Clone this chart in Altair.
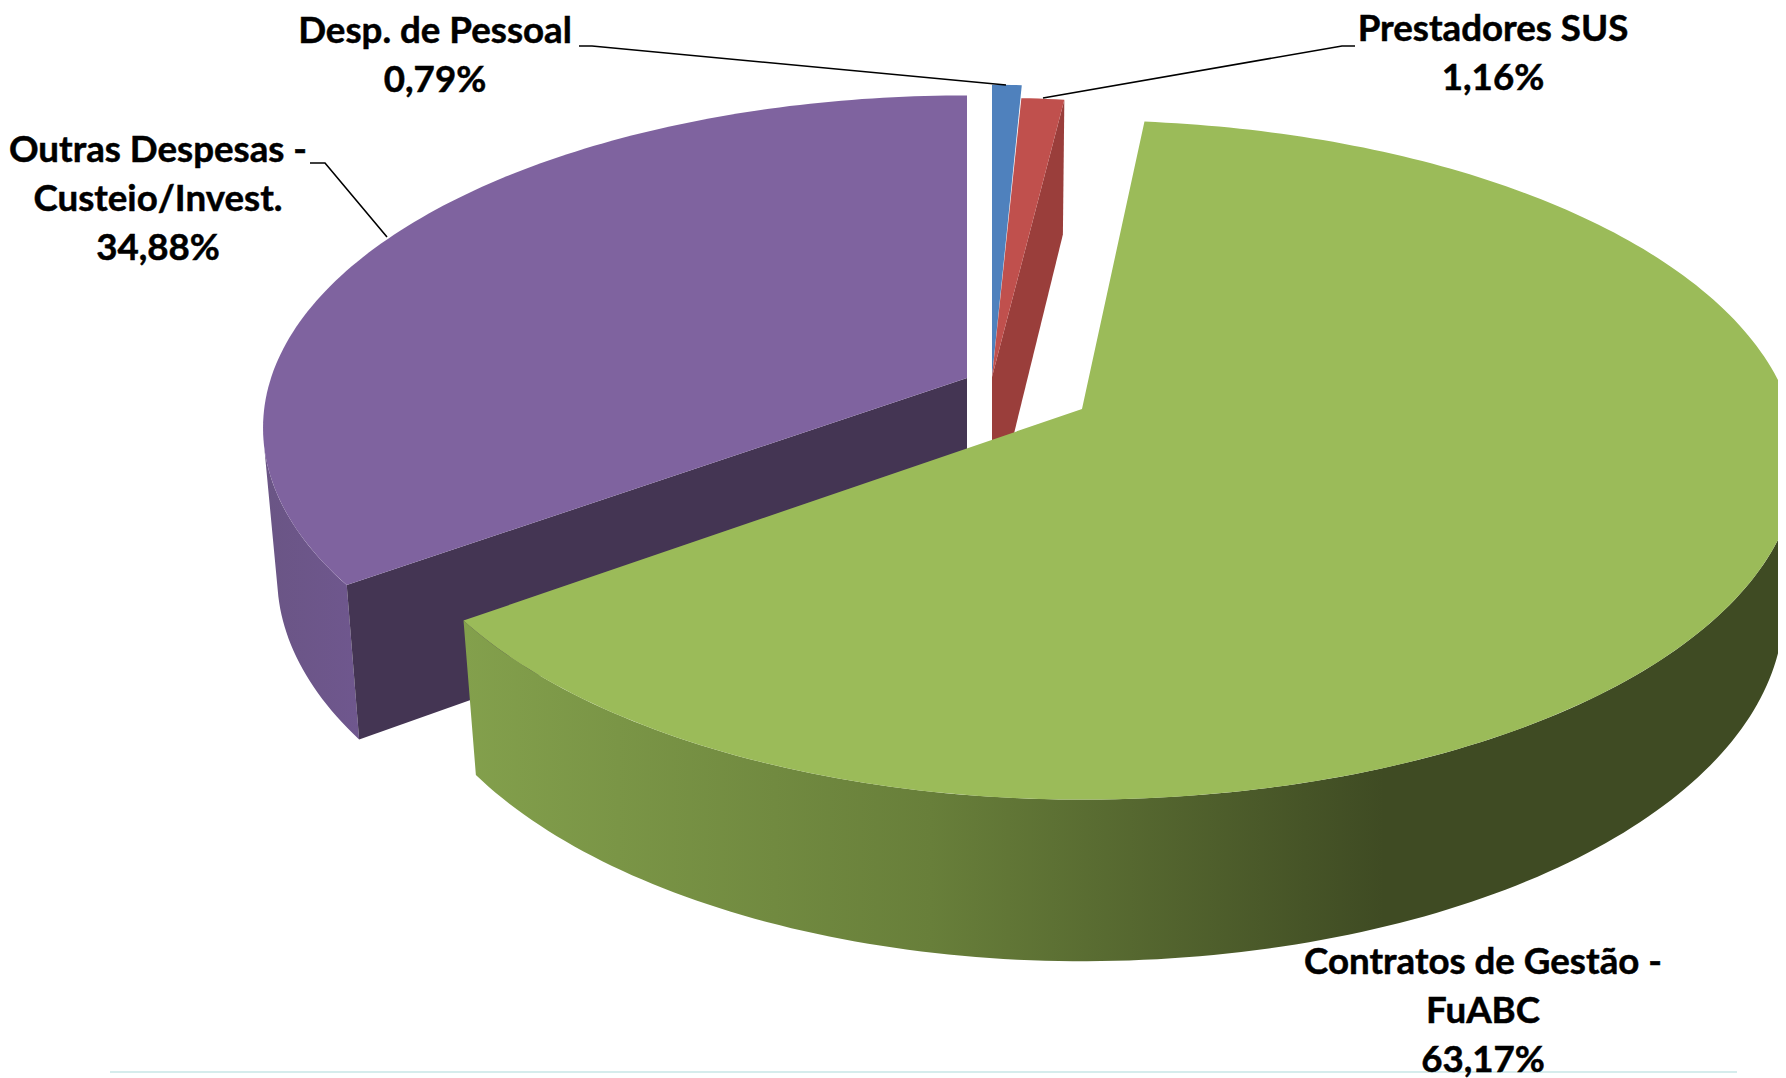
import math
import altair as alt
import pandas as pd

# Pie values (per cent), clockwise from the top
labels = ["Desp. de Pessoal", "Prestadores SUS", "Contratos de Gestão - FuABC", "Outras Despesas - Custeio/Invest."]
values = [0.79, 1.16, 63.17, 34.88]
top_colors = ["#4F81BD", "#C0504D", "#9BBB59", "#7F639F"]
face_colors = ["#3C618E", "#9A3E3B", "#748C43", "#443553"]

# Slice geometry of the perspective drawing: apex x, apex y, half-widths (right, left), half-depth, start nudge
apex_x = [992, 992, 1082, 967]
apex_y = [377, 377, 409, 378]
radius_right = [690, 680, 708, 696]
radius_left = [690, 680, 694, 696]
radius_y = [336, 321, 332, 325]
start_nudge = [0, 0, -1.2, 0]
TILT = 0.15
WALL_DROP = 146
WALL_SX = 0.98
WALL_SY = 1.04

# Text labels: lines, centre x, first line's middle y
text_lines = [["Desp. de Pessoal", "0,79%"], ["Prestadores SUS", "1,16%"],
              ["Outras Despesas -", "Custeio/Invest.", "34,88%"],
              ["Contratos de Gestão -", "FuABC", "63,17%"]]
text_x = [435, 1493, 158, 1483]
text_y = [32, 30, 151, 963]
LINE_GAP = 49

leader_x = [[579, 592, 1006], [1355, 1342, 1043], [310, 325, 387]]
leader_y = [[46, 46, 85], [46, 46, 98], [163, 163, 237]]

X = alt.X("x:Q", axis=None, scale=alt.Scale(domain=[8, 1778], nice=False, zero=False))
Y = alt.Y("y:Q", axis=None, scale=alt.Scale(domain=[1078, 8], nice=False, zero=False))


def rim(i, deg, wall=False):
    t = math.radians(deg)
    sx, sy = math.sin(t), math.cos(t)
    w = 1 + TILT * sy
    rx = radius_right[i] if sx >= 0 else radius_left[i]
    dx = rx * sx / w
    dy = -radius_y[i] * sy / w
    if wall:
        return apex_x[i] + WALL_SX * dx, apex_y[i] + WALL_DROP + WALL_SY * dy
    return apex_x[i] + dx, apex_y[i] + dy


def span(a, b, n=None):
    n = n or max(2, int(abs(b - a)) + 2)
    return [a + (b - a) * k / (n - 1) for k in range(n)]


def poly(points, fill):
    df = pd.DataFrame(points, columns=["x", "y"])
    df["o"] = range(len(df))
    return alt.Chart(df).mark_line(fill=fill, strokeWidth=0, clip=False, interpolate="linear-closed").encode(
        x=X, y=Y, order="o:Q")


starts, c = [], 0.0
for v in values:
    starts.append(c)
    c += v * 3.6
ang = [(starts[i] + start_nudge[i], starts[i] + values[i] * 3.6) for i in range(4)]


def top(i):
    return [(apex_x[i], apex_y[i])] + [rim(i, d) for d in span(*ang[i])]


def wall_arc(i, a, b):
    return [rim(i, d) for d in span(a, b)] + [rim(i, d, True) for d in span(b, a)]


def radial(i, deg):
    return [(apex_x[i], apex_y[i]), rim(i, deg), rim(i, deg, True), (apex_x[i] + 0, apex_y[i] + WALL_DROP)]


green_grad = alt.Gradient(gradient="linear", x1=0, x2=1, y1=0, y2=0, stops=[
    alt.GradientStop(offset=0, color="#83A04C"),
    alt.GradientStop(offset=0.35, color="#687F3A"),
    alt.GradientStop(offset=0.69, color="#3F4B23"),
    alt.GradientStop(offset=1, color="#3F4B23"),
])
purple_grad = alt.Gradient(gradient="linear", x1=0, x2=1, y1=0, y2=0, stops=[
    alt.GradientStop(offset=0, color="#6A5585"),
    alt.GradientStop(offset=1, color="#6F578E"),
])

layers = [
    poly(wall_arc(3, ang[3][0], 258), purple_grad),
    poly(radial(3, ang[3][0]), face_colors[3]),
    poly(top(3), top_colors[3]),
    poly(top(0), top_colors[0]),
    poly(radial(1, ang[1][1]), face_colors[1]),
    poly(top(1), top_colors[1]),
    poly(wall_arc(2, 102, ang[2][1]), green_grad),
    poly(top(2), top_colors[2]),
]

# leaders
for lx, ly in zip(leader_x, leader_y):
    d = pd.DataFrame({"x": lx, "y": ly, "o": range(len(lx))})
    layers.append(alt.Chart(d).mark_line(color="#000000", strokeWidth=1.6).encode(x=X, y=Y, order="o:Q"))

# pale rule at the foot of the picture
rule_df = pd.DataFrame({"x": [110, 1737], "y": [1072, 1072], "o": [0, 1]})
layers.append(alt.Chart(rule_df).mark_line(color="#D6ECEC", strokeWidth=2).encode(x=X, y=Y, order="o:Q"))

# text
rows = []
for lines, tx, ty in zip(text_lines, text_x, text_y):
    for k, s in enumerate(lines):
        rows.append({"x": tx, "y": ty + k * LINE_GAP, "t": s})
layers.append(alt.Chart(pd.DataFrame(rows)).mark_text(
    font="Lato", fontWeight="bold", fontSize=36.7, color="#000000", stroke="#000000", strokeWidth=0.5,
    align="center", baseline="middle"
).encode(x=X, y=Y, text="t:N"))

chart = alt.layer(*layers).properties(
    width=1770, height=1070, padding=0, autosize=alt.AutoSizeParams(type="none"),
    background="#FFFFFF",
).configure_view(stroke=None)

chart.save("out.html", embed_options={"renderer": "svg", "actions": False})
